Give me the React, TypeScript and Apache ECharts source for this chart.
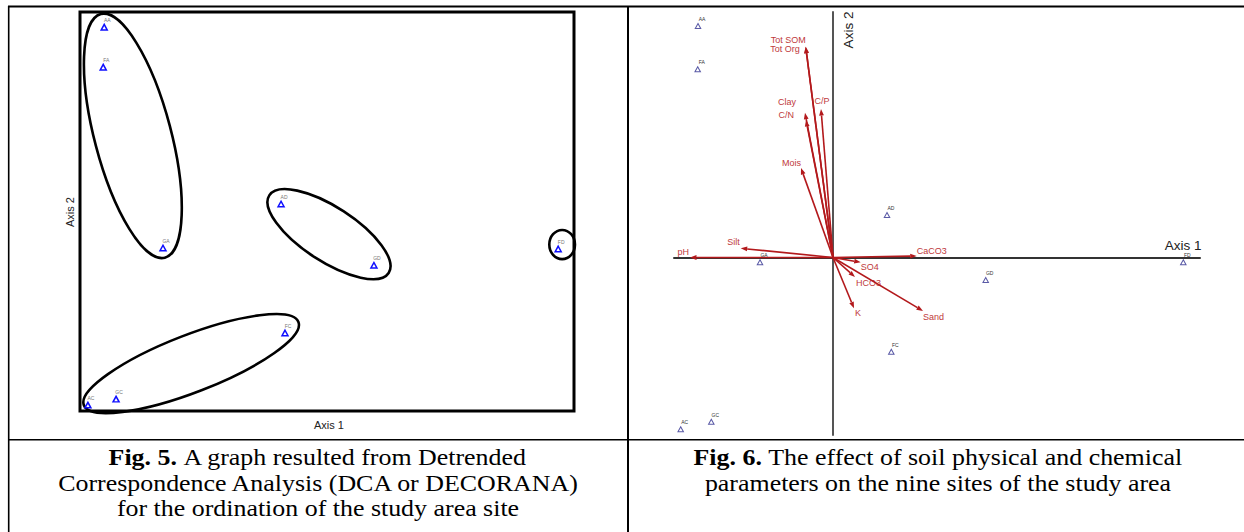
import React, { useEffect, useRef } from "react";
import * as echarts from "echarts";

// ---- Fig. 5 (DCA) site scores ----
const siteNames = ["AA", "FA", "GA", "AD", "GD", "FD", "FC", "GC", "AC"];
const dcaAxis1 = [4.9, 4.7, 16.8, 40.7, 59.5, 96.8, 41.5, 7.3, 1.6];
const dcaAxis2 = [77.7, 69.6, 33.0, 41.9, 29.5, 32.8, 15.8, 2.4, 1.2];

// ---- Fig. 5 group outlines (centre, radii, tilt in degrees) ----
const groupCentre1 = [10.7, 50.4, 97.6, 22.5];
const groupCentre2 = [55.7, 35.8, 33.7, 9.6];
const groupRadius1 = [25.5, 14.4, 2.6, 23.3];
const groupRadius2 = [7.75, 5.5, 2.95, 5.8];
const groupAngle = [-75.3, -33, 0, 21.2];

// ---- Fig. 6 (CCA) site scores ----
const ccaAxis1 = [-1.35, -1.353, -0.73, 0.54, 1.527, 3.503, 0.583, -1.217, -1.523];
const ccaAxis2 = [2.315, 1.882, -0.048, 0.425, -0.225, -0.048, -0.942, -1.642, -1.718];

// ---- Fig. 6 soil variable biplot arrows ----
const soilVars = ["Tot SOM", "Tot Org", "C/P", "Clay", "C/N", "Mois", "pH", "Silt", "CaCO3", "SO4", "HCO3", "K", "Sand"];
const soilAxis1 = [-0.273, -0.273, -0.12, -0.28, -0.27, -0.32, -1.43, -0.923, 0.837, 0.277, 0.22, 0.21, 0.9];
const soilAxis2 = [2.108, 2.108, 1.485, 1.448, 1.375, 0.895, 0.0, 0.092, 0.015, -0.048, -0.195, -0.508, -0.535];

// label placement (style): [align, dx, dy]
const varLabelPlacement: Record<string, [string, number, number]> = {
  "Tot SOM": ["right", 0, -7],
  "Tot Org": ["right", -6, 2],
  "C/P": ["center", 1, -8],
  Clay: ["right", -9, -11],
  "C/N": ["right", -12, -5],
  Mois: ["right", 0, -5],
  pH: ["right", -1, -6],
  Silt: ["right", -1, -6],
  CaCO3: ["left", 0, -5],
  SO4: ["left", 0, 5],
  HCO3: ["left", 1, 6],
  K: ["left", 1, 5],
  Sand: ["left", 0, 6],
};

const SANS = "'Liberation Sans', Arial, sans-serif";
const SERIF = "'Liberation Serif', 'Times New Roman', serif";

export default function App() {
  const ref = useRef<HTMLDivElement>(null);
  useEffect(() => {
    const chart = echarts.init(ref.current!, null, { renderer: "svg" });

    const captionText = (x: number, y: number, text: string) => ({
      type: "text",
      x,
      y,
      scaleX: 1.08,
      style: {
        text,
        align: "center",
        verticalAlign: "middle",
        fontSize: 24,
        fontFamily: SERIF,
        fill: "#000",
        rich: { b: { fontWeight: "bold", fontSize: 24, fontFamily: SERIF, fill: "#000" } },
      },
    });

    const option: any = {
      animation: false,
      backgroundColor: "#fff",
      grid: [
        { left: 80, top: 12, width: 494, height: 399, show: true, borderColor: "#000", borderWidth: 3, backgroundColor: "transparent" },
        { left: 674, top: 12, width: 526, height: 423, show: false },
      ],
      xAxis: [
        { gridIndex: 0, type: "value", min: 0, max: 100, show: false },
        {
          gridIndex: 1, type: "value", min: -1.59, max: 3.67,
          axisLine: { show: true, onZero: true, lineStyle: { color: "#333", width: 2 } },
          axisTick: { show: false }, axisLabel: { show: false }, splitLine: { show: false },
        },
      ],
      yAxis: [
        { gridIndex: 0, type: "value", min: 0, max: 80.77, show: false },
        {
          gridIndex: 1, type: "value", min: -1.775, max: 2.455,
          axisLine: { show: true, onZero: true, lineStyle: { color: "#555", width: 2 } },
          axisTick: { show: false }, axisLabel: { show: false }, splitLine: { show: false },
        },
      ],
      series: [
        {
          type: "custom",
          xAxisIndex: 0,
          yAxisIndex: 0,
          clip: false,
          silent: true,
          data: groupCentre1.map((c, i) => [c, groupCentre2[i], groupRadius1[i], groupRadius2[i], groupAngle[i]]),
          encode: { x: 0, y: 1 },
          renderItem: (params: any, api: any) => {
            const c = api.coord([api.value(0), api.value(1)]);
            const unit = api.size([1, 0])[0];
            return {
              type: "ellipse",
              x: c[0],
              y: c[1],
              rotation: (api.value(4) * Math.PI) / 180,
              shape: { cx: 0, cy: 0, rx: api.value(2) * unit, ry: api.value(3) * unit },
              style: { fill: "none", stroke: "#000", lineWidth: 2.6 },
            };
          },
          z: 2,
        },
        {
          type: "scatter",
          xAxisIndex: 0,
          yAxisIndex: 0,
          silent: true,
          symbol: "triangle",
          symbolSize: [6, 5.5],
          itemStyle: { color: "#fff", borderColor: "#1010ff", borderWidth: 1.5, opacity: 1 },
          label: { show: true, formatter: "{b}", position: "inside", offset: [3, -7], fontSize: 5, color: "#777", fontFamily: SANS },
          data: siteNames.map((n, i) => ({ name: n, value: [dcaAxis1[i], dcaAxis2[i]] })),
          z: 3,
        },
        {
          type: "custom",
          xAxisIndex: 1,
          yAxisIndex: 1,
          clip: false,
          silent: true,
          data: soilVars.map((n, i) => [soilAxis1[i], soilAxis2[i]]),
          encode: { x: 0, y: 1 },
          renderItem: (params: any, api: any) => {
            const name = soilVars[params.dataIndex];
            const o = api.coord([0, 0]);
            const t = api.coord([api.value(0), api.value(1)]);
            const dx = t[0] - o[0];
            const dy = t[1] - o[1];
            const len = Math.hypot(dx, dy) || 1;
            const ux = dx / len;
            const uy = dy / len;
            const head = 6.5;
            const hw = 2.4;
            const bx = t[0] - ux * head;
            const by = t[1] - uy * head;
            const [align, lx, ly] = varLabelPlacement[name] || ["left", 0, 0];
            return {
              type: "group",
              children: [
                { type: "line", shape: { x1: o[0], y1: o[1], x2: bx, y2: by }, style: { stroke: "#b3191c", lineWidth: 1.6 } },
                {
                  type: "polygon",
                  shape: { points: [[t[0], t[1]], [bx - uy * hw, by + ux * hw], [bx + uy * hw, by - ux * hw]] },
                  style: { fill: "#b3191c" },
                },
                {
                  type: "text",
                  x: t[0] + lx,
                  y: t[1] + ly,
                  style: { text: name, fill: "#c0393b", fontSize: 9, fontFamily: SANS, align, verticalAlign: "middle" },
                },
              ],
            };
          },
          z: 3,
        },
        {
          type: "scatter",
          xAxisIndex: 1,
          yAxisIndex: 1,
          silent: true,
          symbol: "triangle",
          symbolSize: [5.5, 5],
          itemStyle: { color: "#fff", borderColor: "#5a5aa6", borderWidth: 1, opacity: 1 },
          label: { show: true, formatter: "{b}", position: "inside", offset: [4, -7], fontSize: 5, color: "#333", fontFamily: SANS },
          data: siteNames.map((n, i) => ({ name: n, value: [ccaAxis1[i], ccaAxis2[i]] })),
          z: 4,
        },
      ],
      graphic: [
        // table rules
        { type: "line", shape: { x1: 8, y1: 6.5, x2: 1244, y2: 6.5 }, style: { stroke: "#000", lineWidth: 1.8 } },
        { type: "line", shape: { x1: 8.7, y1: 6, x2: 8.7, y2: 532 }, style: { stroke: "#000", lineWidth: 1.6 } },
        { type: "line", shape: { x1: 628, y1: 6, x2: 628, y2: 532 }, style: { stroke: "#000", lineWidth: 2 } },
        { type: "line", shape: { x1: 8, y1: 439.7, x2: 1244, y2: 439.7 }, style: { stroke: "#000", lineWidth: 1.6 } },
        // axis titles
        { type: "text", x: 70, y: 212, rotation: Math.PI / 2, style: { text: "Axis 2", align: "center", verticalAlign: "middle", fontSize: 11, fontFamily: SANS, fill: "#222" } },
        { type: "text", x: 329, y: 425, style: { text: "Axis 1", align: "center", verticalAlign: "middle", fontSize: 11, fontFamily: SANS, fill: "#222" } },
        { type: "text", x: 848, y: 30, rotation: Math.PI / 2, style: { text: "Axis 2", align: "center", verticalAlign: "middle", fontSize: 13.5, fontFamily: SANS, fill: "#222" } },
        { type: "text", x: 1183, y: 245, style: { text: "Axis 1", align: "center", verticalAlign: "middle", fontSize: 13.5, fontFamily: SANS, fill: "#222" } },
        // captions
        captionText(318, 457, "{b|Fig. 5.} A graph resulted from Detrended"),
        captionText(318, 482.5, "Correspondence Analysis (DCA or DECORANA)"),
        captionText(318, 508, "for the ordination of the study area site"),
        captionText(938, 457, "{b|Fig. 6.} The effect of soil physical and chemical"),
        captionText(938, 482.5, "parameters on the nine sites of the study area"),
      ],
    };

    chart.setOption(option);
    return () => chart.dispose();
  }, []);

  return (
    <div
      ref={ref}
      style={{ position: "fixed", left: 0, top: 0, width: 1244, height: 532, background: "#fff" }}
    />
  );
}
